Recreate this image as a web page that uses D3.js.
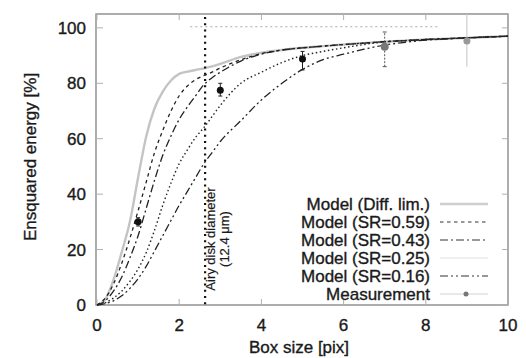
<!DOCTYPE html>
<html>
<head>
<meta charset="utf-8">
<script src="https://cdn.jsdelivr.net/npm/d3@7"></script>
<style>
  body { margin: 0; background: #fff; }
  text { font-family: "Liberation Sans", Arial, sans-serif; fill: #1a1a1a; stroke: #1a1a1a; stroke-width: 0.35px; }
</style>
</head>
<body>
<div class="chart"></div>
<script>
// box sizes used for the model curves
const boxSize = [0, 0.2, 0.4, 0.6, 0.8, 1.0, 1.2, 1.4, 1.6, 1.8, 2.0, 2.2, 2.4, 2.6, 2.8, 3.0,
                 3.5, 4, 4.5, 5, 5.5, 6, 6.5, 7, 7.5, 8, 8.5, 9, 9.5, 10];

const diffLim = [0, 2, 9, 19, 30, 46, 61, 71, 77, 81, 83.4, 84.2, 84.8, 85.4, 86.1, 87,
                 89.5, 91, 92, 92.8, 93.4, 94, 94.5, 95, 95.4, 95.8, 96.1, 96.4, 96.7, 97];
const sr059 = [0, 2.5, 7.5, 15, 24, 34, 44.5, 55, 63, 70, 75.5, 79, 81.3, 82.8, 84, 85.5,
               88.5, 90.7, 92, 92.8, 93.4, 94, 94.5, 95, 95.4, 95.8, 96.1, 96.4, 96.7, 97];
const sr043 = [0, 1.5, 5, 10, 17, 25, 35, 45, 54, 61, 67, 71.5, 75.5, 79.5, 82, 84,
               88, 90.5, 92, 92.8, 93.4, 94, 94.5, 95, 95.4, 95.8, 96.1, 96.4, 96.7, 97];
const sr025 = [0, 0.8, 2.5, 5, 8.5, 13, 19, 27, 36, 44, 51, 56, 60.5, 64, 68, 72,
               80, 84, 87.5, 90, 91.5, 92.8, 94, 95, 95.4, 95.8, 96.1, 96.4, 96.7, 97];
const sr016 = [0, 0.5, 1.5, 3.3, 6, 9.5, 14, 19.5, 25, 30.5, 36, 41, 46, 51, 55, 59,
               66.5, 74, 80, 85, 88.5, 90.5, 92.3, 93.8, 94.8, 95.6, 96, 96.4, 96.7, 97];

const seriesNames = ["Model (Diff. lim.)", "Model (SR=0.59)", "Model (SR=0.43)",
                     "Model (SR=0.25)", "Model (SR=0.16)"];

// measurements with error bars
const measX = [1, 3, 5, 7, 9];
const measY = [30, 77.5, 88.8, 93.2, 95.3];
const measLo = [28.5, 75.4, 84.8, 86, 86];
const measHi = [31.5, 80, 91.5, 98.5, 105];

const xTicks = [0, 2, 4, 6, 8, 10];
const yTicks = [0, 20, 40, 60, 80, 100];
const airyX = 2.63;

function main() {
    const W = 526, H = 358;
    const svg = d3.select(".chart").append("svg")
        .attr("width", W).attr("height", H);

    const x = d3.scaleLinear().domain([0, 10]).range([97, 508]);
    const y = d3.scaleLinear().domain([0, 105]).range([305, 14]);

    // line styles per series (gnuplot-ish)
    const styles = [
        { color: "#c4c4c4", width: 2.4, dash: null, legendColor: "#cfcfcf" },
        { color: "#222", width: 1.3, dash: "3.5,3.5", legendColor: "#333" },
        { color: "#222", width: 1.3, dash: "8,3,2,3", legendColor: "#333" },
        { color: "#222", width: 1.4, dash: "1.5,2.6", legendColor: "#e0e0e0" },
        { color: "#222", width: 1.3, dash: "8,3,2,3,2,3", legendColor: "#333" }
    ];
    const allSeries = [diffLim, sr059, sr043, sr025, sr016];

    // frame
    svg.append("rect")
        .attr("x", x(0) - 1).attr("y", y(105))
        .attr("width", x(10) - x(0) + 1).attr("height", y(0) - y(105))
        .attr("fill", "none").attr("stroke", "#8a8a8a").attr("stroke-width", 1.4);

    // ticks inside the frame
    const tickG = svg.append("g").attr("stroke", "#b0b0b0").attr("stroke-width", 1);
    yTicks.forEach(t => {
        tickG.append("line").attr("x1", x(0)).attr("x2", x(0) + 6).attr("y1", y(t)).attr("y2", y(t));
        tickG.append("line").attr("x1", x(10)).attr("x2", x(10) - 6).attr("y1", y(t)).attr("y2", y(t));
    });
    xTicks.forEach(t => {
        tickG.append("line").attr("x1", x(t)).attr("x2", x(t)).attr("y1", y(0)).attr("y2", y(0) - 6);
        tickG.append("line").attr("x1", x(t)).attr("x2", x(t)).attr("y1", y(105)).attr("y2", y(105) + 6);
    });

    // tick labels
    svg.selectAll(".ylab").data(yTicks).enter().append("text")
        .attr("x", 86).attr("y", d => y(d) + 6)
        .attr("text-anchor", "end").attr("font-size", 17)
        .text(d => d);
    svg.selectAll(".xlab").data(xTicks).enter().append("text")
        .attr("x", d => x(d)).attr("y", 331)
        .attr("text-anchor", "middle").attr("font-size", 17)
        .text(d => d);

    // axis titles
    svg.append("text").attr("x", 299).attr("y", 353)
        .attr("text-anchor", "middle").attr("font-size", 17)
        .text("Box size [pix]");
    svg.append("text")
        .attr("transform", "translate(36,157) rotate(-90)")
        .attr("text-anchor", "middle").attr("font-size", 17)
        .text("Ensquared energy [%]");

    // faint dotted line at 100 %
    svg.append("line")
        .attr("x1", x(2.27)).attr("x2", x(8.3)).attr("y1", y(100.4)).attr("y2", y(100.4))
        .attr("stroke", "#aaa").attr("stroke-width", 1).attr("stroke-dasharray", "2,3");

    // model curves
    const line = d3.line()
        .x((d, i) => x(boxSize[i]))
        .y(d => y(d))
        .curve(d3.curveMonotoneX);

    svg.selectAll(".model").data(allSeries).enter().append("path")
        .attr("d", d => line(d))
        .attr("fill", "none")
        .attr("stroke", (d, i) => styles[i].color)
        .attr("stroke-width", (d, i) => styles[i].width)
        .attr("stroke-dasharray", (d, i) => styles[i].dash);

    // airy disk line
    svg.append("line")
        .attr("x1", x(airyX)).attr("x2", x(airyX)).attr("y1", 17).attr("y2", y(0))
        .attr("stroke", "#111").attr("stroke-width", 2.2).attr("stroke-dasharray", "2,4.2");

    const airyText = svg.append("g");
    airyText.append("text")
        .attr("transform", "translate(215,239) rotate(-90)")
        .attr("text-anchor", "middle").attr("font-size", 13)
        .style("stroke-width", "0.2px")
        .text("Airy disk diameter");
    airyText.append("text")
        .attr("transform", "translate(229,239) rotate(-90)")
        .attr("text-anchor", "middle").attr("font-size", 13)
        .style("stroke-width", "0.2px")
        .text("(12.4 μm)");

    // measurements
    const meas = measX.map((v, i) => ({ x: v, y: measY[i], lo: measLo[i], hi: measHi[i] }));
    const markColor = d => d.x >= 9 ? "#999" : (d.x >= 7 ? "#777" : "#111");
    const barColor = d => d.x >= 9 ? "#c4c4c4" : (d.x >= 7 ? "#555" : "#222");

    svg.selectAll(".ebar").data(meas).enter().append("line")
        .attr("x1", d => x(d.x)).attr("x2", d => x(d.x))
        .attr("y1", d => y(d.lo)).attr("y2", d => y(d.hi))
        .attr("stroke", barColor).attr("stroke-width", 1)
        .attr("stroke-dasharray", d => d.x === 7 ? "2,1.5" : null);
    svg.selectAll(".ecap").data(meas.filter(d => d.x < 9)).enter().append("path")
        .attr("d", d => `M${x(d.x) - 2},${y(d.lo)}H${x(d.x) + 2}M${x(d.x) - 2},${y(d.hi)}H${x(d.x) + 2}`)
        .attr("stroke", barColor).attr("stroke-width", 1);
    svg.selectAll(".mpt").data(meas).enter().append("circle")
        .attr("cx", d => x(d.x)).attr("cy", d => y(d.y))
        .attr("r", d => d.x === 7 ? 4 : 3.5)
        .attr("fill", markColor);

    // legend
    const legend = svg.append("g");
    const rowY = i => 204 + i * 18;
    seriesNames.forEach((name, i) => {
        legend.append("text").attr("x", 430).attr("y", rowY(i) + 6)
            .attr("text-anchor", "end").attr("font-size", 17).text(name);
        legend.append("line")
            .attr("x1", 440).attr("x2", 488).attr("y1", rowY(i)).attr("y2", rowY(i))
            .attr("stroke", styles[i].legendColor)
            .attr("stroke-width", i === 0 ? 2.4 : 1.2)
            .attr("stroke-dasharray", i === 3 ? null : styles[i].dash);
    });
    legend.append("text").attr("x", 430).attr("y", rowY(5) + 6)
        .attr("text-anchor", "end").attr("font-size", 17).text("Measurement");
    legend.append("line")
        .attr("x1", 440).attr("x2", 488).attr("y1", rowY(5)).attr("y2", rowY(5))
        .attr("stroke", "#d4d4d4").attr("stroke-width", 1.2);
    legend.append("circle").attr("cx", 466).attr("cy", rowY(5)).attr("r", 2.5).attr("fill", "#777");
}

main();
</script>
</body>
</html>
